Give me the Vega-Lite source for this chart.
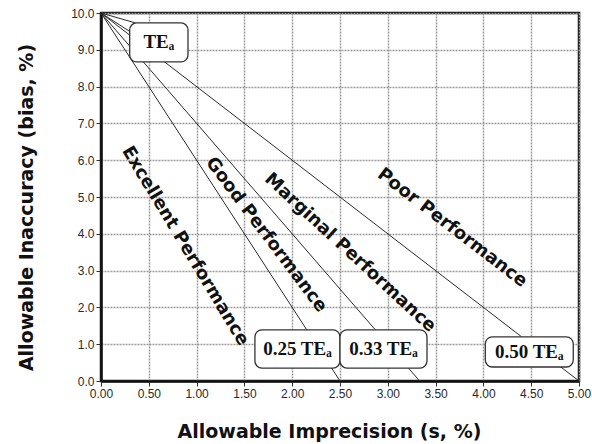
{
  "$schema": "https://vega.github.io/schema/vega-lite/v6.json",
  "width": 478,
  "height": 368,
  "autosize": {"type": "none"},
  "padding": {"left": 101, "top": 13, "right": 13, "bottom": 63},
  "background": "white",
  "config": {
    "view": {"stroke": "#111111", "strokeWidth": 2.5},
    "axis": {
      "grid": true,
      "gridColor": "#9a9a9a",
      "gridDash": [2, 1],
      "gridWidth": 1.5,
      "domainColor": "#111111",
      "domainWidth": 2.5,
      "tickColor": "#333333",
      "tickSize": 5,
      "labelFont": "Liberation Sans",
      "labelFontSize": 12,
      "labelColor": "#2a2a2a",
      "labelFlush": false,
      "labelOverlap": false,
      "titleFont": "DejaVu Sans",
      "titleFontSize": 19,
      "titleFontWeight": "bold",
      "titleColor": "#111111",
      "titleBaseline": "middle"
    }
  },
  "datasets": {
    "lines": [
      {"ratio": "0.25", "s": 0, "bias": 10},
      {"ratio": "0.25", "s": 2.5, "bias": 0},
      {"ratio": "0.33", "s": 0, "bias": 10},
      {"ratio": "0.33", "s": 3.333, "bias": 0},
      {"ratio": "0.50", "s": 0, "bias": 10},
      {"ratio": "0.50", "s": 5, "bias": 0},
      {"ratio": "tail1", "s": 0, "bias": 10},
      {"ratio": "tail1", "s": 0.3, "bias": 9.5},
      {"ratio": "tail2", "s": 0, "bias": 10},
      {"ratio": "tail2", "s": 0.36, "bias": 9.73}
    ],
    "boxes": [
      {"label": "TEₐ", "s": 0.30, "s2": 0.91, "bias": 9.73, "bias2": 8.67},
      {"label": "0.25 TEₐ", "s": 1.61, "s2": 2.50, "bias": 1.39, "bias2": 0.35},
      {"label": "0.33 TEₐ", "s": 2.50, "s2": 3.41, "bias": 1.39, "bias2": 0.35},
      {"label": "0.50 TEₐ", "s": 4.02, "s2": 4.94, "bias": 1.20, "bias2": 0.38}
    ],
    "boxLabels": [
      {"label": "TEₐ", "s": 0.605, "bias": 9.2},
      {"label": "0.25 TEₐ", "s": 2.055, "bias": 0.87},
      {"label": "0.33 TEₐ", "s": 2.955, "bias": 0.87},
      {"label": "0.50 TEₐ", "s": 4.48, "bias": 0.79}
    ],
    "regions": [
      {"name": "Excellent Performance", "s": 0.879, "bias": 3.67},
      {"name": "Good Performance", "s": 1.726, "bias": 3.97},
      {"name": "Marginal Performance", "s": 2.605, "bias": 3.48},
      {"name": "Poor Performance", "s": 3.672, "bias": 4.16}
    ]
  },
  "encoding": {
    "x": {
      "field": "s", "type": "quantitative",
      "scale": {"domain": [0, 5], "nice": false, "zero": true},
      "axis": {
        "values": [0, 0.5, 1, 1.5, 2, 2.5, 3, 3.5, 4, 4.5, 5],
        "format": ".2f",
        "title": "Allowable Imprecision (s, %)",
        "titleX": 228,
        "titleY": 50
      }
    },
    "y": {
      "field": "bias", "type": "quantitative",
      "scale": {"domain": [0, 10], "nice": false, "zero": true},
      "axis": {
        "values": [0, 1, 2, 3, 4, 5, 6, 7, 8, 9, 10],
        "format": ".1f",
        "title": "Allowable Inaccuracy (bias, %)",
        "titleX": -75,
        "titleY": 194
      }
    }
  },
  "layer": [
    {
      "data": {"name": "lines"},
      "mark": {"type": "line", "color": "#2a2a2a", "strokeWidth": 1},
      "encoding": {
        "detail": {"field": "ratio"}
      }
    },
    {
      "data": {"name": "boxes"},
      "mark": {"type": "rect", "fill": "white", "stroke": "#333333", "strokeWidth": 1.3, "cornerRadius": 7},
      "encoding": {
        "x2": {"field": "s2"},
        "y2": {"field": "bias2"}
      }
    },
    {
      "data": {"name": "boxLabels"},
      "mark": {"type": "text", "font": "Liberation Serif", "fontSize": 19, "fontWeight": "bold", "color": "#111111", "align": "center", "baseline": "middle"},
      "encoding": {
        "text": {"field": "label"}
      }
    },
    {
      "data": {"name": "regions"},
      "transform": [{"filter": "datum.name === 'Excellent Performance'"}],
      "mark": {"type": "text", "font": "DejaVu Sans", "fontSize": 18, "fontWeight": "bold", "color": "#111111", "angle": 59, "align": "center", "baseline": "middle"},
      "encoding": {
        "text": {"field": "name"}
      }
    },
    {
      "data": {"name": "regions"},
      "transform": [{"filter": "datum.name === 'Good Performance'"}],
      "mark": {"type": "text", "font": "DejaVu Sans", "fontSize": 18, "fontWeight": "bold", "color": "#111111", "angle": 53, "align": "center", "baseline": "middle"},
      "encoding": {
        "text": {"field": "name"}
      }
    },
    {
      "data": {"name": "regions"},
      "transform": [{"filter": "datum.name === 'Marginal Performance'"}],
      "mark": {"type": "text", "font": "DejaVu Sans", "fontSize": 18, "fontWeight": "bold", "color": "#111111", "angle": 42.6, "align": "center", "baseline": "middle"},
      "encoding": {
        "text": {"field": "name"}
      }
    },
    {
      "data": {"name": "regions"},
      "transform": [{"filter": "datum.name === 'Poor Performance'"}],
      "mark": {"type": "text", "font": "DejaVu Sans", "fontSize": 18, "fontWeight": "bold", "color": "#111111", "angle": 37.5, "align": "center", "baseline": "middle"},
      "encoding": {
        "text": {"field": "name"}
      }
    }
  ]
}
